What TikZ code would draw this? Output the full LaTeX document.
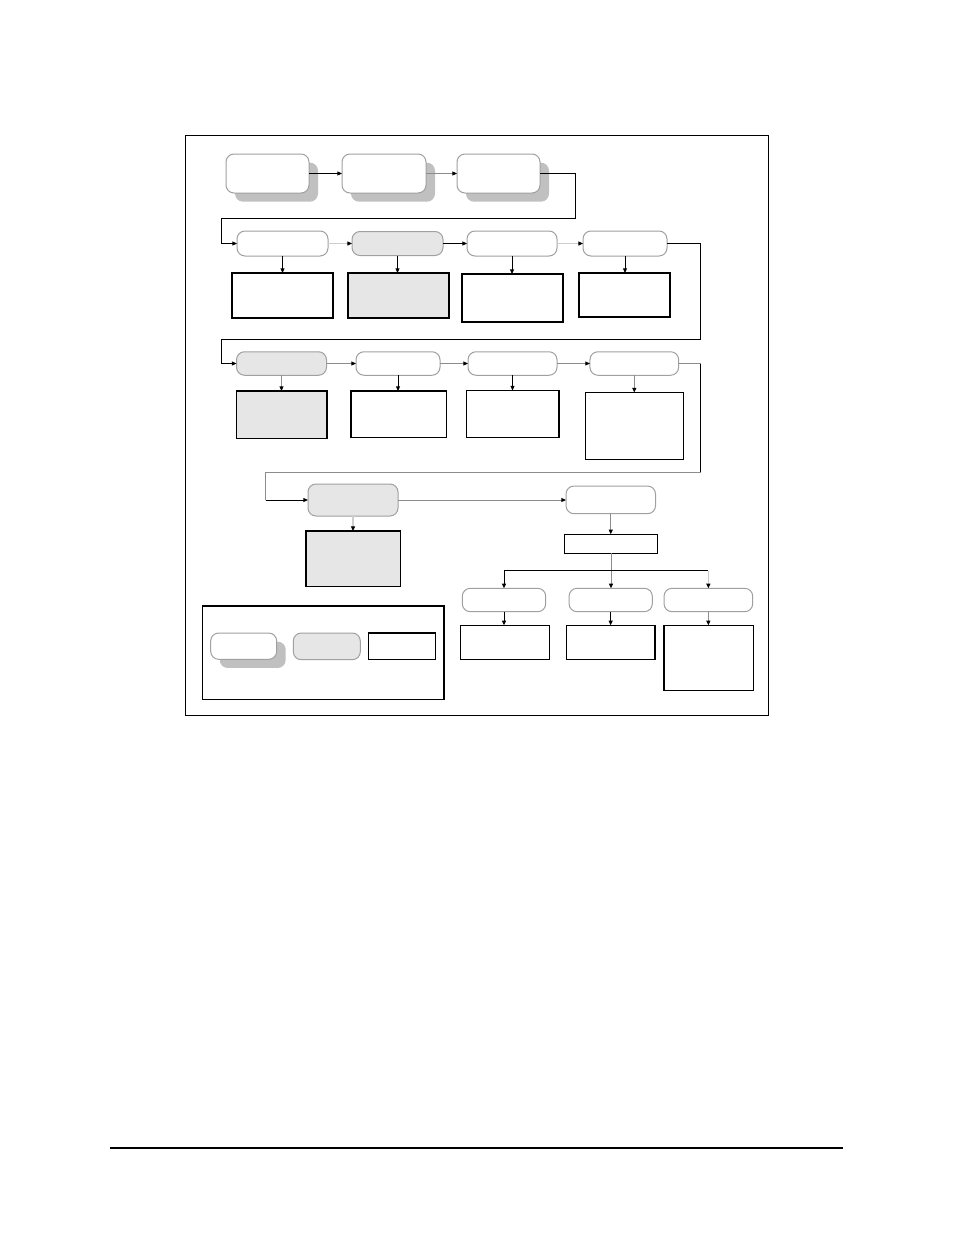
\documentclass[tikz,border=0pt]{standalone}
\usepackage{xcolor}
\usepackage{tikz}
\usetikzlibrary{arrows.meta,shadows}

\definecolor{shade}{RGB}{192,192,192}
\definecolor{panel}{RGB}{230,230,230}
\definecolor{rim}{RGB}{160,160,160}
\definecolor{wire}{RGB}{140,140,140}
\definecolor{faint}{RGB}{205,205,205}

\tikzset{
  boxsize/.style 2 args={minimum width=#1*0.75pt, minimum height=#2*0.75pt},
  stage/.style={draw=rim, line width=0.75pt, rounded corners=6pt, fill=white, inner sep=0pt, outer sep=0pt},
  stageshadow/.style={stage, drop shadow={shadow xshift=6.75pt, shadow yshift=-6.5pt, fill=shade, opacity=1}},
  stagegrey/.style={stage, fill=panel},
  note/.style={draw=black, line width=0.8pt, fill=white, inner sep=0pt, outer sep=0pt},
  notegrey/.style={note, fill=panel},
  link/.style={draw=black, line width=0.75pt},
  glink/.style={draw=wire, line width=0.75pt},
  llink/.style={draw=faint, line width=0.9pt},
  arrowhead/.style={-{Triangle[length=3.5pt,width=3pt,color=black]}},
}

\begin{document}
\begin{tikzpicture}[x=0.75pt,y=0.75pt,yscale=-1,xscale=1]
\useasboundingbox (0,0) rectangle (954,1235);

%Outer frame
\draw [line width=0.75pt] (185,135) rectangle (768,715.5) ;
%Legend frame
\draw [line width=0.8pt] (202.3,606) rectangle (444,699.3) ;

%Top row, shadowed stages
\node [stageshadow, boxsize={83}{39}] (A1) at (267.5,173.5) {};
\node [stageshadow, boxsize={84}{39}] (A2) at (384,173.5) {};
\node [stageshadow, boxsize={83}{39}] (A3) at (498.5,173.5) {};

%Second row
\node [stage, boxsize={91}{25}] (B1) at (282.5,243.5) {};
\node [stagegrey, boxsize={91}{24}] (B2) at (397.5,243.5) {};
\node [stage, boxsize={90}{25}] (B3) at (512,243.5) {};
\node [stage, boxsize={84}{25}] (B4) at (625,243.5) {};
\node [note, boxsize={101}{45}] (R1) at (282.5,295.5) {};
\node [notegrey, boxsize={101}{45}] (R2) at (398.5,295.5) {};
\node [note, boxsize={101}{48}] (R3) at (512.5,298) {};
\node [note, boxsize={91}{44}] (R4) at (624.5,295) {};

%Third row
\node [stagegrey, boxsize={90}{23.5}] (C1) at (281.5,363.5) {};
\node [stage, boxsize={84}{23.5}] (C2) at (398,363.5) {};
\node [stage, boxsize={89}{23.5}] (C3) at (512.5,363.5) {};
\node [stage, boxsize={88.7}{23.5}] (C4) at (634.3,363.5) {};
\node [notegrey, boxsize={90.5}{47.5}] (D1) at (281.75,414.75) {};
\node [note, boxsize={95.5}{46.5}] (D2) at (398.75,414.25) {};
\node [note, boxsize={92.5}{47}] (D3) at (512.75,414) {};
\node [note, boxsize={98}{67}] (D4) at (634.5,426) {};

%Fourth row
\node [stagegrey, boxsize={90}{32}] (E1) at (353,500) {};
\node [notegrey, boxsize={94.7}{55.7}] (F1) at (353.35,558.85) {};
\node [stage, boxsize={89.5}{27.7}] (E2) at (610.75,499.85) {};
\node [note, boxsize={93.4}{19}] (F2) at (611,543.8) {};
\node [stage, boxsize={83.4}{23.4}] (G1) at (504,600) {};
\node [stage, boxsize={83.3}{23.4}] (G2) at (610.65,600) {};
\node [stage, boxsize={88.7}{23.4}] (G3) at (708.35,600) {};
\node [note, boxsize={89.4}{34.4}] (H1) at (505,642.5) {};
\node [note, boxsize={88.7}{34.4}] (H2) at (610.65,642.5) {};
\node [note, boxsize={89.3}{65}] (H3) at (708.65,657.8) {};

%Legend
\node [stageshadow, boxsize={66}{26.3}] (K1) at (243.7,646.15) {};
\node [stagegrey, boxsize={67}{26.7}] (K2) at (326.8,646.35) {};
\node [note, boxsize={67.4}{26.3}] (K3) at (402,646.15) {};

%Turning points
\coordinate (turnA) at (575.7,218.3);
\coordinate (turnB) at (221.3,218.3);
\coordinate (turnC) at (700.7,339.3);
\coordinate (turnD) at (221.3,339.3);
\coordinate (turnE) at (700.7,363.5);
\coordinate (turnF) at (700.7,472.3);
\coordinate (turnG) at (265.7,472.3);
\coordinate (split) at (610.65,570.7);

%Connectors, top row
\draw [link, arrowhead] (A1.east) -- (A2.west) ;
\draw [glink, arrowhead] (A2.east) -- (A3.west) ;
\draw [link, arrowhead] (A3.east) -| (turnA) -- (turnB) |- (B1.west) ;

%Connectors, second row
\draw [llink, arrowhead] (B1.east) -- (B2.west) ;
\draw [link, arrowhead] (B2.east) -- (B3.west) ;
\draw [llink, arrowhead] (B3.east) -- (B4.west) ;
\draw [link, arrowhead] (B4.east) -| (turnC) -- (turnD) |- (C1.west) ;
\draw [link, arrowhead] (B1.south) -- (B1.south |- R1.north) ;
\draw [link, arrowhead] (B2.south) -- (B2.south |- R2.north) ;
\draw [link, arrowhead] (B3.south) -- (B3.south |- R3.north) ;
\draw [link, arrowhead] (B4.south) -- (B4.south |- R4.north) ;

%Connectors, third row
\draw [glink, arrowhead] (C1.east) -- (C2.west) ;
\draw [glink, arrowhead] (C2.east) -- (C3.west) ;
\draw [glink, arrowhead] (C3.east) -- (C4.west) ;
\draw [glink, arrowhead] (C1.south) -- (C1.south |- D1.north) ;
\draw [link, arrowhead] (C2.south) -- (C2.south |- D2.north) ;
\draw [link, arrowhead] (C3.south) -- (C3.south |- D3.north) ;
\draw [glink, arrowhead] (C4.south) -- (C4.south |- D4.north) ;
\draw [glink] (C4.east) -- (turnE) ;
\draw [link] (turnE) -- (turnF) ;
\draw [glink] (turnF) -- (turnG) -- (turnG |- E1.west) ;
\draw [link, arrowhead] (turnG |- E1.west) -- (E1.west) ;

%Connectors, fourth row
\draw [glink, arrowhead] (E1.east) -- (E1.east -| E2.west) ;
\draw [llink, arrowhead] (E1.south) -- (E1.south |- F1.north) ;
\draw [glink, arrowhead] (E2.south) -- (E2.south |- F2.north) ;
\draw [glink, arrowhead] (F2.south) -- (F2.south |- G2.north) ;
\draw [link] (G1.north |- split) -- (G3.north |- split) ;
\draw [link, arrowhead] (G1.north |- split) -- (G1.north) ;
\draw [llink, arrowhead] (G3.north |- split) -- (G3.north) ;
\draw [link, arrowhead] (G1.south) -- (G1.south |- H1.north) ;
\draw [link, arrowhead] (G2.south) -- (G2.south |- H2.north) ;
\draw [glink, arrowhead] (G3.south) -- (G3.south |- H3.north) ;

%Page rule
\draw [line width=0.9pt] (110,1148) -- (843,1148) ;

\end{tikzpicture}
\end{document}
